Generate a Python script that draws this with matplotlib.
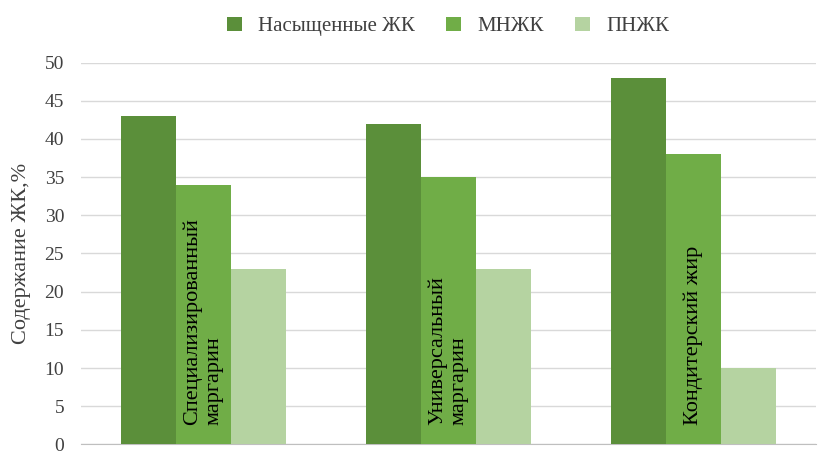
import numpy as np
from matplotlib import pyplot as plt

plt.rcParams['font.family'] = ['Liberation Serif', 'DejaVu Serif']

categories = ['Специализированный\nмаргарин', 'Универсальный\nмаргарин', 'Кондитерский жир']
series = ['Насыщенные ЖК', 'МНЖК', 'ПНЖК']
values = [
    [43, 42, 48],
    [34, 35, 38],
    [23, 23, 10],
]
colors = ['#5b8f3a', '#70ad47', '#b5d3a1']

fig, ax = plt.subplots(figsize=(8.24, 4.63), dpi=100)
fig.subplots_adjust(left=0.098, right=0.99, top=0.865, bottom=0.04)

x = np.arange(len(categories))
w = 0.225
for i, (name, vals) in enumerate(zip(series, values)):
    ax.bar(x + (i - 1) * w, vals, w, color=colors[i], label=name, zorder=3)

for xi, cat in zip(x, categories):
    ax.text(xi, 2.5, cat, rotation=90, ha='center', va='bottom',
            fontsize=16, multialignment='left', zorder=4)

ax.set_xlim(-0.5, 2.5)
ax.set_ylim(0, 50)
ax.set_yticks(range(0, 51, 5))
ax.set_xticks([])
ax.tick_params(axis='y', length=0, labelsize=14, colors='#404040', pad=12)
ax.grid(axis='y', color='#d9d9d9', linewidth=1, zorder=0)
for s in ['top', 'right', 'left']:
    ax.spines[s].set_visible(False)
ax.spines['bottom'].set_color('#bfbfbf')
ax.set_ylabel('Содержание ЖК,%', fontsize=16, color='#404040', labelpad=10)

ax.legend(loc='lower center', bbox_to_anchor=(0.5, 1.02), ncol=3, frameon=False,
          fontsize=15, handlelength=0.7, handleheight=0.7, columnspacing=1.5,
          labelcolor='#404040')

fig.savefig('out.png')
